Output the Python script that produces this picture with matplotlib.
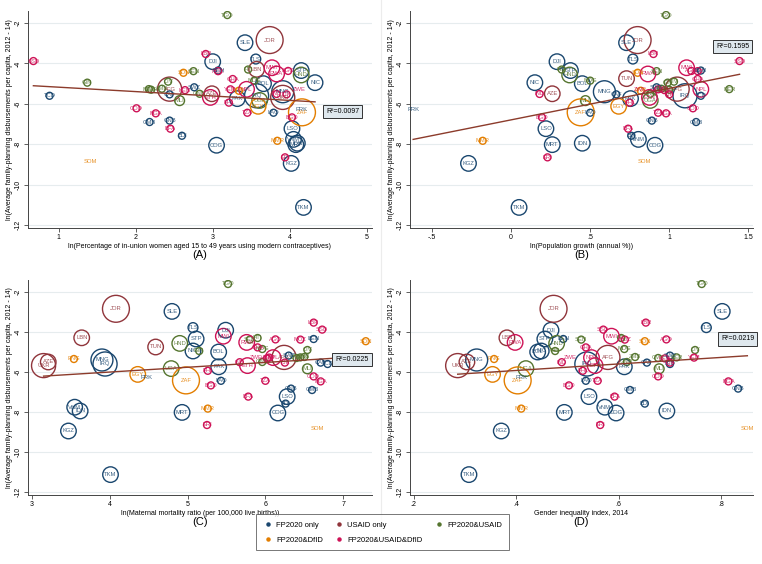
import numpy as np
import matplotlib.pyplot as plt
from matplotlib.lines import Line2D

plt.rcParams["font.family"] = ["Liberation Sans", "DejaVu Sans"]
nan = np.nan

# country codes, funding group, bubble weight, outcome and the four predictors
codes = ["TGO", "JOR", "SLE", "LBR", "SSD", "DJI", "TLS", "LBN", "TUN", "STP",
         "MWI", "RWA", "HND", "SEN", "HTI", "SDN", "AGO", "MOZ", "BEN", "NIC",
         "BOL", "MDG", "GIN", "MNG", "IRQ", "CAF", "TCD", "AZE", "UKR", "AFG",
         "PNG", "EGY", "ZAF", "PRK", "SOM", "PAK", "UGA", "MLI", "PHL", "LAO",
         "TZA", "BGD", "COD", "NGA", "GNB", "GMB", "BFA", "BDI", "LSO", "VNM",
         "IDN", "MRT", "COG", "MMR", "ERI", "KGZ", "TKM", "NER", "CMR", "ZMB",
         "CIV", "KEN", "SWZ", "GNQ", "ETH", "YEM", "NPL", "IND", "TJK", "GHA",
         "ZWE"]
group = [2, 1, 0, 4, 4, 0, 0, 1, 1, 0,
         4, 4, 2, 2, 2, 3, 4, 4, 0, 0,
         0, 2, 2, 0, 0, 0, 0, 1, 1, 1,
         3, 3, 3, 0, 3, 0, 2, 2, 4, 0,
         4, 4, 4, 4, 0, 0, 4, 0, 0, 0,
         0, 0, 0, 3, 4, 0, 0, 2, 2, 2,
         2, 4, 0, 2, 4, 4, 4, 4, 4, 4,
         4]
weight = [1, 15, 5, 1, 1, 5, 2, 5, 5, 5,
          5, 5, 5, 1, 1, 1, 1, 1, 1, 5,
          5, 1, 1, 10, 12, 1, 1, 5, 12, 12,
          1, 5, 15, 0, 0, 5, 5, 2, 1, 1,
          1, 1, 1, 1, 1, 1, 1, 1, 5, 5,
          5, 5, 5, 1, 1, 5, 5, 1, 1, 1,
          1, 1, 1, 1, 5, 1, 5, 1, 1, 1,
          0]
fp_disb = [-1.60, -2.84, -2.97, -3.53, -3.88, -3.91, -3.78, -4.29, -4.75, -4.35,
           -4.21, -4.52, -4.57, -4.38, -4.30, -4.46, -4.37, -4.38, -4.35, -4.95,
           -5.00, -4.85, -4.95, -5.40, -5.60, -5.53, -5.60, -5.50, -5.68, -5.27,
           -5.35, -6.12, -6.42, -6.28, -8.85, -5.74, -5.83, -5.84, -5.94, -6.44,
           -6.44, -6.67, -6.22, -6.47, -6.83, -6.90, -7.23, -7.58, -7.23, -7.76,
           -7.95, -8.02, -8.05, -7.83, -8.65, -8.95, -11.13, -5.27, -5.30, -5.25,
           -4.90, -5.32, -5.18, -5.50, -5.68, -5.28, -5.28, -5.51, -5.53, -4.77,
           -5.30]
ln_contra = [3.19, 3.74, 3.42, 2.91, 0.67, 3.00, 3.56, 3.57, nan, 4.15,
             3.77, 3.83, 4.15, 2.75, 3.46, 2.62, 3.98, 3.07, 3.07, 4.33,
             3.66, 3.54, 1.37, 3.91, 3.57, 2.44, 0.88, 2.99, 3.91, 2.44,
             3.34, 3.59, 4.16, 4.16, 1.41, 3.32, 3.61, 2.57, 3.21, 3.79,
             3.45, 4.03, 2.01, 2.26, 2.44, 2.18, 2.45, 2.60, 4.03, 4.05,
             4.10, 4.08, 3.05, 3.84, 3.94, 4.02, 4.18, 2.17, 2.20, 2.34,
             2.42, 2.64, 2.76, 2.83, 2.97, 3.23, 3.44, 3.83, 3.96, 3.26,
             4.13]
ln_popgrowth = [0.98, 0.80, 0.73, 0.90, 1.445, 0.29, 0.77, nan, 0.73, 0.375,
                1.11, 0.865, 0.37, 0.92, 0.32, 0.80, 1.14, 1.18, 1.20, 0.15,
                0.45, 0.50, 0.99, 0.59, 1.10, 0.665, 1.20, 0.26, nan, 1.05,
                0.82, 0.68, 0.44, -0.62, 0.84, 0.755, 0.88, 0.47, 0.75, 0.50,
                0.93, 0.195, 1.15, 0.98, 0.89, 1.17, 0.74, 0.76, 0.22, 0.805,
                0.45, 0.26, 0.91, -0.18, 0.23, -0.27, 0.05, 1.38, 1.00, 0.95,
                1.03, 0.97, 0.92, 0.88, 0.875, 0.93, 1.20, 0.18, 1.00, 1.18,
                0.82]
ln_mmr = [5.52, 4.08, 4.80, 6.62, 6.73, 5.49, 5.07, 3.64, 4.59, 5.11,
          5.46, 5.76, 4.90, 5.80, 5.90, 7.29, 6.13, 6.45, 6.62, 5.07,
          5.40, 5.96, 5.15, 3.90, 3.94, 6.71, 6.80, 3.21, 3.15, 6.24,
          3.54, 4.36, 4.98, 4.47, 6.67, 5.40, 4.79, 6.54, 5.26, 5.43,
          6.00, 5.30, 6.62, 6.71, 6.33, 6.60, 5.78, 6.26, 6.28, 3.55,
          3.62, 4.93, 6.16, 5.26, 5.25, 3.47, 4.01, 6.45, 6.40, 6.50,
          6.54, 6.02, 6.30, 5.96, 5.77, 6.05, 6.10, 5.67, 6.25, 5.90,
          5.88]
gii = [0.762, 0.473, 0.802, 0.653, 0.570, 0.468, 0.771, 0.382, nan, 0.456,
       0.586, 0.398, 0.479, 0.527, 0.605, 0.651, 0.693, 0.612, 0.492, 0.449,
       0.442, 0.611, 0.476, 0.323, 0.538, 0.655, 0.700, 0.304, 0.286, 0.579,
       0.357, 0.354, 0.403, 0.410, 0.851, 0.611, 0.419, 0.679, 0.530, 0.536,
       0.559, 0.503, 0.677, 0.814, 0.833, 0.622, 0.592, 0.651, 0.542, 0.573,
       0.694, 0.494, 0.595, 0.410, 0.564, 0.371, 0.308, 0.713, 0.677, 0.632,
       0.749, 0.690, 0.700, 0.616, 0.554, 0.747, 0.547, 0.489, 0.700, 0.536,
       0.505]

group_names = ["FP2020 only", "USAID only", "FP2020&USAID", "FP2020&DfID",
               "FP2020&USAID&DfID"]
colors = ["#1a476f", "#90353b", "#55752f", "#e37e00", "#ce1256"]

r2_text = ["0.0097", "0.1595", "0.0225", "0.0219"]

y = np.array(fp_disb)
grp = np.array(group)
w = np.array(weight, dtype=float)

panels = [
    dict(x=ln_contra, xlabel="ln(Percentage of in-union women aged 15 to 49 years using modern contraceptives)",
         xticks=[1, 2, 3, 4, 5], xtl=["1", "2", "3", "4", "5"], xlim=(0.6, 5.07),
         r2pos=(4.69, -6.38), letter="(A)", rect=[28, 11, 372, 228]),
    dict(x=ln_popgrowth, xlabel="ln(Population growth (annual %))",
         xticks=[-0.5, 0, 0.5, 1, 1.5], xtl=["-.5", "0", ".5", "1", "1.5"], xlim=(-0.64, 1.53),
         r2pos=(1.40, -3.17), letter="(B)", rect=[410, 11, 753, 228]),
    dict(x=ln_mmr, xlabel="ln(Maternal mortality ratio (per 100,000 live births))",
         xticks=[3, 4, 5, 6, 7], xtl=["3", "4", "5", "6", "7"], xlim=(2.95, 7.37),
         r2pos=(7.11, -5.36), letter="(C)", rect=[28, 280, 372, 495]),
    dict(x=gii, xlabel="Gender inequality index, 2014",
         xticks=[0.2, 0.4, 0.6, 0.8], xtl=[".2", ".4", ".6", ".8"], xlim=(0.193, 0.862),
         r2pos=(0.832, -4.35), letter="(D)", rect=[410, 280, 753, 495]),
]

W, H = 762, 564
fig = plt.figure(figsize=(W / 100, H / 100), dpi=100)

# faint divider between the combined sub-graphs
fig.add_artist(Line2D([381 / W, 381 / W], [1 - 530 / H, 1], color="#ececec", lw=0.8))

for k, p in enumerate(panels):
    l, t, r, b = p["rect"]
    ax = fig.add_axes([l / W, 1 - b / H, (r - l) / W, (b - t) / H])
    x = np.array(p["x"], dtype=float)
    ok = np.isfinite(x)

    # horizontal grid
    for yt in range(-12, 0, 2):
        ax.axhline(yt, color="#e6ecee", lw=0.8, zorder=0)

    for g in range(5):
        m = ok & (grp == g)
        ax.scatter(x[m], y[m], s=w[m] * 25, facecolors="none",
                   edgecolors=colors[g], linewidths=1.0, zorder=2)
    for i in np.where(ok)[0]:
        ax.text(x[i], y[i], codes[i], fontsize=4.2, color=colors[grp[i]],
                alpha=0.85, ha="center", va="center", zorder=3)

    # linear fit
    slope, icpt = np.polyfit(x[ok], y[ok], 1)
    xs = np.array([x[ok].min(), x[ok].max()])
    ax.plot(xs, icpt + slope * xs, color="#8c3b2b", lw=1.0, zorder=4)

    ax.text(p["r2pos"][0], p["r2pos"][1], "R\u00b2=" + r2_text[k], fontsize=5,
            ha="center", va="center", zorder=5,
            bbox=dict(boxstyle="square,pad=0.45", fc="#dfe8ee", ec="#333333", lw=0.7))

    ax.set_xlim(*p["xlim"])
    ax.set_ylim(-12.15, -1.4)
    ax.set_xticks(p["xticks"])
    ax.set_xticklabels(p["xtl"])
    ax.set_yticks([-2, -4, -6, -8, -10, -12])
    ax.set_yticklabels(["-2", "-4", "-6", "-8", "-10", "-12"], rotation=90, va="center")
    ax.tick_params(labelsize=5, length=3, width=0.6, color="#444444", pad=1.5)
    for s in ["top", "right"]:
        ax.spines[s].set_visible(False)
    for s in ["left", "bottom"]:
        ax.spines[s].set_color("#444444")
        ax.spines[s].set_linewidth(0.7)
    ax.set_xlabel(p["xlabel"], fontsize=5, labelpad=1.5)
    ax.set_ylabel("ln(Average family-planning disbursements per capita, 2012 - 14)",
                  fontsize=5, labelpad=1.5)
    fig.text((l + r) / 2 / W, 1 - (b + 27) / H, p["letter"], fontsize=8,
             ha="center", va="center")

handles = [Line2D([], [], marker="o", ls="", ms=2.2, color=colors[g]) for g in [0, 3, 1, 4, 2]]
labels = [group_names[g] for g in [0, 3, 1, 4, 2]]
leg = fig.legend(handles, labels, ncol=3, loc="center", bbox_to_anchor=(0.502, 0.056),
                 fontsize=5.5, frameon=True, fancybox=False, edgecolor="#555555",
                 handletextpad=0.5, handlelength=1.2, columnspacing=1.5,
                 borderpad=0.9, labelspacing=1.0)
leg.get_frame().set_linewidth(0.7)

fig.savefig("out.png", dpi=100)
